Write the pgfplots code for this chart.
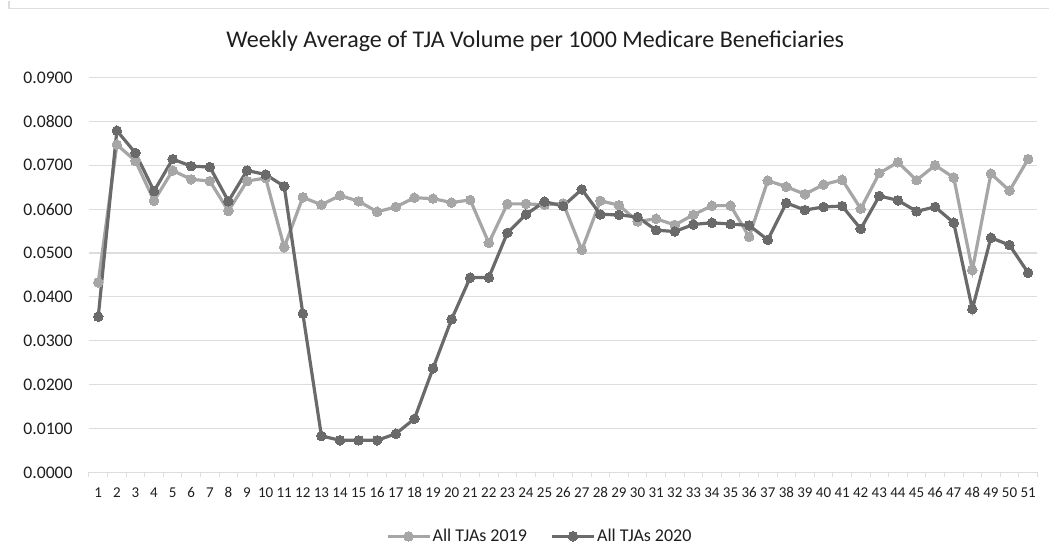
\documentclass[border=0pt]{standalone}
\usepackage{pgfplots}
\pgfplotsset{compat=1.18}
\usepackage{fontspec}
\setmainfont{Carlito}
\definecolor{c2019}{HTML}{A6A6A6}
\definecolor{c2020}{HTML}{6A6A6A}
\definecolor{gridc}{HTML}{DDDDDD}
\definecolor{txt}{HTML}{1E1E1E}
\begin{document}
\begin{tikzpicture}[x=1pt,y=1pt]
\path (0,0) rectangle (1050,553);
\draw[gridc, line width=1.2pt] (9,553) -- (9,545) -- (1050,545);
\node[txt, font=\fontsize{24}{28}\selectfont] at (535.5,512) {Weekly Average of TJA Volume per 1000 Medicare Beneficiaries};
\begin{axis}[
  at={(89pt,81pt)}, anchor=south west,
  scale only axis, width=949pt, height=395pt,
  xmin=0.5, xmax=51.5, ymin=0, ymax=0.09,
  xtick={1,...,51},
  minor xtick={0.5,1.5,...,51.5},
  major x tick style={draw=none},
  minor x tick style={gridc, line width=1pt},
  minor tick length=5pt,
  tick align=outside,
  ytick={0,0.01,0.02,0.03,0.04,0.05,0.06,0.07,0.08,0.09},
  scaled y ticks=false,
  yticklabel style={/pgf/number format/fixed, /pgf/number format/fixed zerofill, /pgf/number format/precision=4, /pgf/number format/assume math mode=true, font=\fontsize{17.7}{20}\selectfont, text=txt, xshift=-8.5pt},
  xticklabel style={/pgf/number format/assume math mode=true, font=\fontsize{15}{17}\selectfont, text=txt, text height=10pt, text depth=0pt, yshift=-7pt},
  y tick style={draw=none},
  axis x line*=bottom, axis y line*=left,
  x axis line style={gridc, line width=1.2pt, -},
  y axis line style={draw=none},
  ymajorgrids, major grid style={gridc, line width=1.2pt},
  clip=false,
  legend columns=2,
  legend style={at={(0.475,-0.162)}, anchor=center, draw=none, fill=none,
    font=\fontsize{18}{21}\selectfont, text=txt, nodes={inner xsep=1.5pt},
    /tikz/every even column/.append style={column sep=22pt}},
  legend image code/.code={\draw[mark repeat=2,mark phase=2] plot coordinates {(0pt,0pt) (21pt,0pt) (42pt,0pt)};},
]
\addplot[c2019, line width=3.2pt, mark=*, mark size=4.8pt, mark options={fill=c2019, draw=c2019, line width=0pt}] coordinates {
(1,0.0433) (2,0.0747) (3,0.0710) (4,0.0619) (5,0.0688) (6,0.0668) (7,0.0664) (8,0.0596) (9,0.0664) (10,0.0671)
(11,0.0513) (12,0.0627) (13,0.0610) (14,0.0631) (15,0.0618) (16,0.0594) (17,0.0605) (18,0.0626) (19,0.0624) (20,0.0615)
(21,0.0621) (22,0.0523) (23,0.0612) (24,0.0612) (25,0.0610) (26,0.0613) (27,0.0507) (28,0.0619) (29,0.0609) (30,0.0572)
(31,0.0578) (32,0.0564) (33,0.0587) (34,0.0608) (35,0.0608) (36,0.0537) (37,0.0665) (38,0.0651) (39,0.0634) (40,0.0656)
(41,0.0667) (42,0.0601) (43,0.0682) (44,0.0707) (45,0.0666) (46,0.0700) (47,0.0672) (48,0.0461) (49,0.0681) (50,0.0642)
(51,0.0714)};
\addlegendentry{All TJAs 2019}
\addplot[c2020, line width=3.2pt, mark=*, mark size=4.8pt, mark options={fill=c2020, draw=c2020, line width=0pt}] coordinates {
(1,0.0355) (2,0.0779) (3,0.0728) (4,0.0641) (5,0.0714) (6,0.0698) (7,0.0696) (8,0.0618) (9,0.0688) (10,0.0679)
(11,0.0652) (12,0.0362) (13,0.0083) (14,0.0073) (15,0.0073) (16,0.0073) (17,0.0088) (18,0.0122) (19,0.0237) (20,0.0349)
(21,0.0444) (22,0.0444) (23,0.0546) (24,0.0588) (25,0.0617) (26,0.0607) (27,0.0645) (28,0.0588) (29,0.0587) (30,0.0582)
(31,0.0552) (32,0.0549) (33,0.0565) (34,0.0569) (35,0.0566) (36,0.0563) (37,0.0530) (38,0.0614) (39,0.0598) (40,0.0605)
(41,0.0607) (42,0.0555) (43,0.0630) (44,0.0620) (45,0.0595) (46,0.0605) (47,0.0569) (48,0.0372) (49,0.0535) (50,0.0518)
(51,0.0455)};
\addlegendentry{All TJAs 2020}
\end{axis}
\end{tikzpicture}
\end{document}
